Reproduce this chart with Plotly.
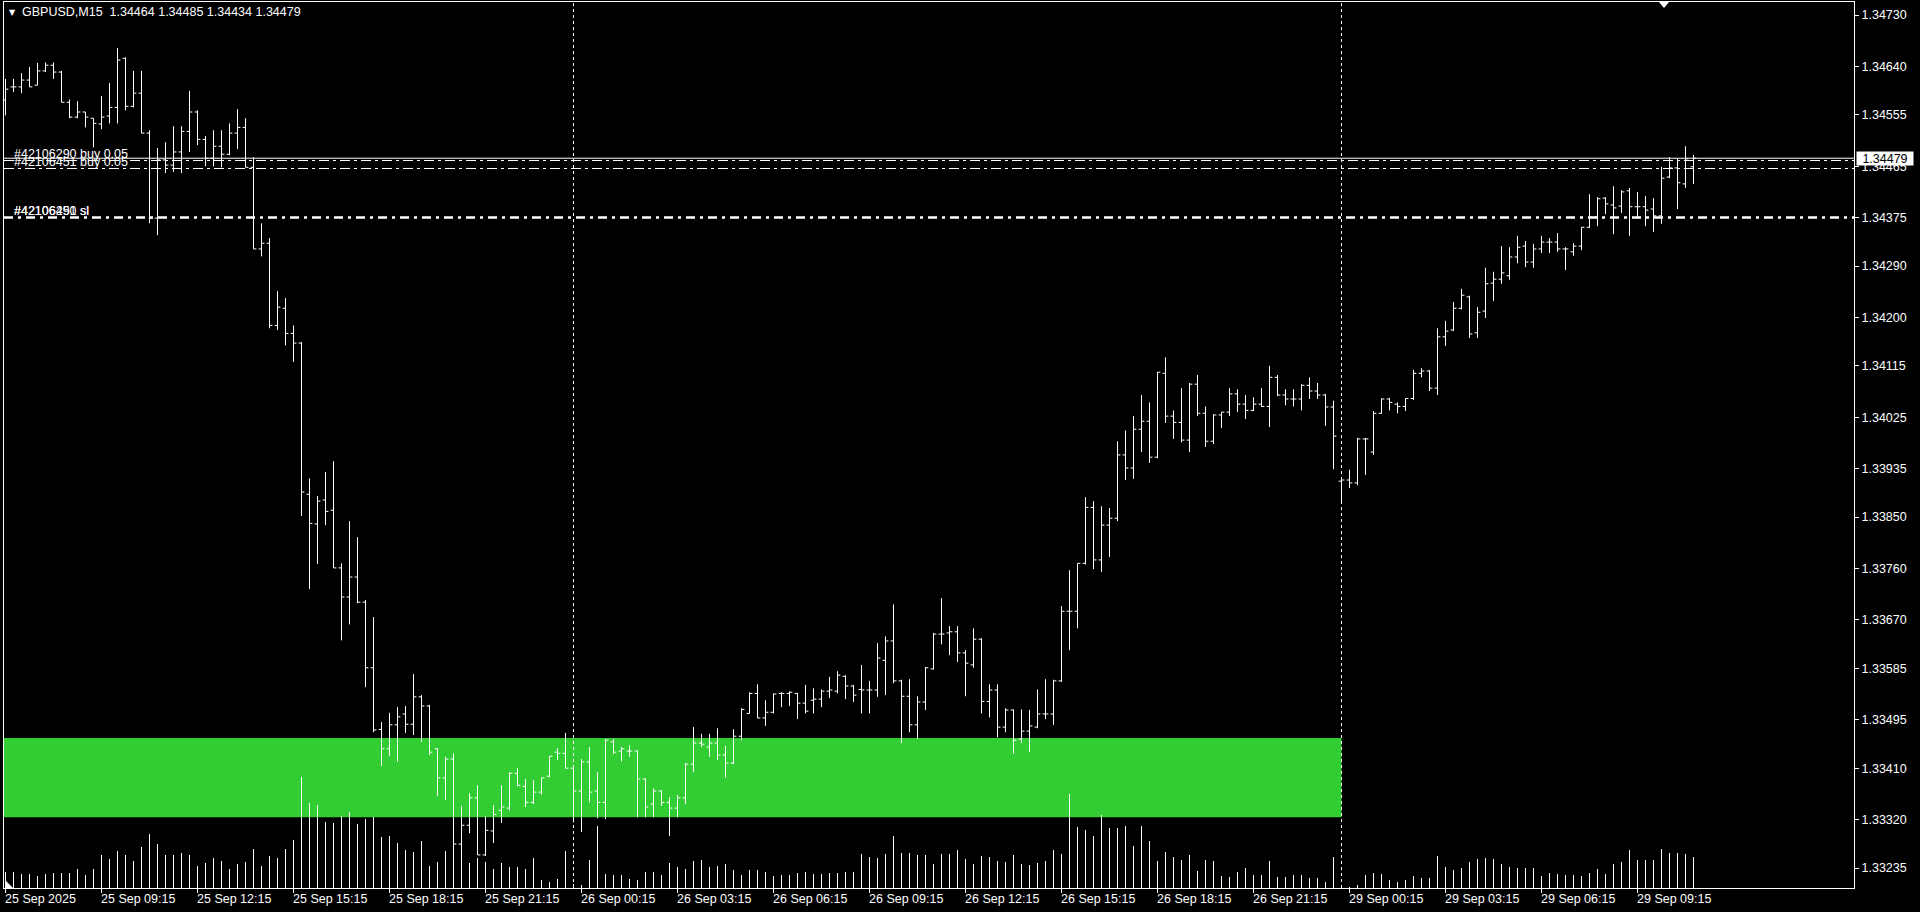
import pandas as pd
import plotly.graph_objects as go

# ---------------- data (GBPUSD, M15) ----------------
opens = [
    1.34581, 1.34604, 1.34604, 1.34616, 1.34607, 1.34632, 1.34642, 1.34630, 1.34577, 1.34551,
    1.34560, 1.34549, 1.34539, 1.34553, 1.34568, 1.34654, 1.34570, 1.34593, 1.34523, 1.34374,
    1.34476, 1.34467, 1.34490, 1.34526, 1.34560, 1.34512, 1.34479, 1.34500, 1.34486, 1.34523,
    1.34533, 1.34463, 1.34320, 1.34330, 1.34186, 1.34216, 1.34172, 1.34155, 1.33890, 1.33838,
    1.33880, 1.33862, 1.33761, 1.33710, 1.33745, 1.33701, 1.33586, 1.33478, 1.33444, 1.33486,
    1.33505, 1.33487, 1.33535, 1.33519, 1.33444, 1.33393, 1.33426, 1.33277, 1.33310, 1.33358,
    1.33258, 1.33300, 1.33336, 1.33340, 1.33401, 1.33378, 1.33350, 1.33368, 1.33396, 1.33438,
    1.33436, 1.33410, 1.33370, 1.33421, 1.33370, 1.33350, 1.33456, 1.33440, 1.33440, 1.33440,
    1.33391, 1.33347, 1.33370, 1.33350, 1.33340, 1.33358, 1.33417, 1.33454, 1.33447, 1.33454,
    1.33433, 1.33419, 1.33466, 1.33506, 1.33541, 1.33498, 1.33508, 1.33541, 1.33541, 1.33541,
    1.33524, 1.33529, 1.33531, 1.33545, 1.33545, 1.33571, 1.33554, 1.33548, 1.33547, 1.33547,
    1.33599, 1.33633, 1.33563, 1.33536, 1.33486, 1.33526, 1.33584, 1.33645, 1.33647, 1.33649,
    1.33612, 1.33591, 1.33636, 1.33527, 1.33547, 1.33482, 1.33512, 1.33461, 1.33475, 1.33482,
    1.33505, 1.33505, 1.33563, 1.33685, 1.33685, 1.33769, 1.33867, 1.33775, 1.33836, 1.33848,
    1.33959, 1.33936, 1.34004, 1.34018, 1.33955, 1.34102, 1.34027, 1.34016, 1.33985, 1.34083,
    1.34032, 1.33983, 1.34029, 1.34034, 1.34066, 1.34048, 1.34037, 1.34048, 1.34044, 1.34095,
    1.34064, 1.34057, 1.34057, 1.34081, 1.34071, 1.34064, 1.34043, 1.33913, 1.33915, 1.33910,
    1.33987, 1.33964, 1.34032, 1.34057, 1.34048, 1.34044, 1.34058, 1.34102, 1.34106, 1.34076,
    1.34166, 1.34178, 1.34216, 1.34236, 1.34173, 1.34211, 1.34260, 1.34267, 1.34273, 1.34306,
    1.34325, 1.34297, 1.34320, 1.34332, 1.34332, 1.34320, 1.34315, 1.34325, 1.34358, 1.34376,
    1.34409, 1.34397, 1.34395, 1.34422, 1.34394, 1.34394, 1.34390, 1.34378, 1.34446, 1.34462,
    1.34434, 1.34464,
]
highs = [
    1.34618, 1.34618, 1.34628, 1.34639, 1.34646, 1.34647, 1.34647, 1.34632, 1.34582, 1.34579,
    1.34560, 1.34549, 1.34588, 1.34611, 1.34672, 1.34656, 1.34632, 1.34632, 1.34528, 1.34497,
    1.34507, 1.34535, 1.34535, 1.34597, 1.34563, 1.34518, 1.34528, 1.34528, 1.34540, 1.34565,
    1.34549, 1.34481, 1.34365, 1.34339, 1.34246, 1.34234, 1.34186, 1.34157, 1.33918, 1.33887,
    1.33929, 1.33948, 1.33769, 1.33843, 1.33815, 1.33705, 1.33675, 1.33491, 1.33507, 1.33517,
    1.33519, 1.33575, 1.33538, 1.33521, 1.33445, 1.33430, 1.33436, 1.33344, 1.33366, 1.33380,
    1.33326, 1.33345, 1.33380, 1.33403, 1.33410, 1.33391, 1.33389, 1.33393, 1.33431, 1.33445,
    1.33472, 1.33412, 1.33426, 1.33447, 1.33403, 1.33461, 1.33461, 1.33447, 1.33450, 1.33441,
    1.33392, 1.33375, 1.33371, 1.33359, 1.33363, 1.33419, 1.33482, 1.33470, 1.33470, 1.33480,
    1.33449, 1.33478, 1.33515, 1.33543, 1.33557, 1.33529, 1.33541, 1.33543, 1.33545, 1.33542,
    1.33556, 1.33550, 1.33548, 1.33570, 1.33580, 1.33573, 1.33556, 1.33591, 1.33563, 1.33629,
    1.33641, 1.33697, 1.33565, 1.33566, 1.33536, 1.33587, 1.33647, 1.33708, 1.33659, 1.33659,
    1.33617, 1.33655, 1.33638, 1.33557, 1.33557, 1.33515, 1.33513, 1.33513, 1.33512, 1.33548,
    1.33566, 1.33565, 1.33694, 1.33757, 1.33769, 1.33885, 1.33878, 1.33869, 1.33866, 1.33983,
    1.34002, 1.34027, 1.34064, 1.34051, 1.34104, 1.34130, 1.34037, 1.34076, 1.34085, 1.34099,
    1.34044, 1.34030, 1.34034, 1.34076, 1.34074, 1.34064, 1.34060, 1.34076, 1.34115, 1.34099,
    1.34074, 1.34074, 1.34083, 1.34095, 1.34085, 1.34066, 1.34054, 1.33915, 1.33933, 1.33989,
    1.33989, 1.34036, 1.34058, 1.34059, 1.34051, 1.34058, 1.34108, 1.34111, 1.34108, 1.34181,
    1.34194, 1.34227, 1.34250, 1.34238, 1.34218, 1.34287, 1.34280, 1.34325, 1.34323, 1.34343,
    1.34334, 1.34329, 1.34343, 1.34339, 1.34348, 1.34323, 1.34330, 1.34358, 1.34416, 1.34411,
    1.34411, 1.34430, 1.34423, 1.34427, 1.34420, 1.34413, 1.34409, 1.34464, 1.34481, 1.34478,
    1.34500, 1.34485,
]
lows = [
    1.34554, 1.34595, 1.34593, 1.34604, 1.34607, 1.34630, 1.34618, 1.34577, 1.34549, 1.34549,
    1.34533, 1.34498, 1.34530, 1.34540, 1.34540, 1.34563, 1.34568, 1.34523, 1.34365, 1.34344,
    1.34453, 1.34455, 1.34453, 1.34490, 1.34502, 1.34465, 1.34465, 1.34463, 1.34484, 1.34495,
    1.34463, 1.34320, 1.34307, 1.34181, 1.34178, 1.34151, 1.34122, 1.33852, 1.33724, 1.33768,
    1.33836, 1.33761, 1.33634, 1.33662, 1.33699, 1.33552, 1.33473, 1.33414, 1.33431, 1.33421,
    1.33472, 1.33468, 1.33456, 1.33433, 1.33361, 1.33354, 1.33252, 1.33266, 1.33296, 1.33258,
    1.33256, 1.33279, 1.33314, 1.33336, 1.33378, 1.33342, 1.33347, 1.33364, 1.33394, 1.33424,
    1.33410, 1.33315, 1.33298, 1.33350, 1.33322, 1.33321, 1.33435, 1.33422, 1.33430, 1.33324,
    1.33324, 1.33324, 1.33344, 1.33291, 1.33324, 1.33347, 1.33403, 1.33447, 1.33430, 1.33424,
    1.33393, 1.33417, 1.33459, 1.33506, 1.33498, 1.33484, 1.33506, 1.33517, 1.33519, 1.33496,
    1.33506, 1.33506, 1.33517, 1.33533, 1.33541, 1.33531, 1.33526, 1.33506, 1.33506, 1.33535,
    1.33538, 1.33559, 1.33454, 1.33473, 1.33461, 1.33512, 1.33583, 1.33627, 1.33608, 1.33596,
    1.33536, 1.33586, 1.33506, 1.33499, 1.33464, 1.33473, 1.33435, 1.33454, 1.33438, 1.33480,
    1.33496, 1.33486, 1.33561, 1.33617, 1.33655, 1.33767, 1.33759, 1.33754, 1.33780, 1.33843,
    1.33915, 1.33917, 1.33964, 1.33945, 1.33953, 1.34015, 1.33987, 1.33981, 1.33964, 1.34027,
    1.33973, 1.33978, 1.34006, 1.34027, 1.34034, 1.34022, 1.34036, 1.34043, 1.34008, 1.34062,
    1.34046, 1.34044, 1.34037, 1.34057, 1.34057, 1.34010, 1.33934, 1.33876, 1.33901, 1.33906,
    1.33924, 1.33959, 1.34031, 1.34037, 1.34032, 1.34036, 1.34055, 1.34095, 1.34071, 1.34064,
    1.34150, 1.34176, 1.34214, 1.34164, 1.34164, 1.34199, 1.34229, 1.34259, 1.34266, 1.34295,
    1.34288, 1.34287, 1.34313, 1.34313, 1.34315, 1.34283, 1.34308, 1.34318, 1.34357, 1.34360,
    1.34381, 1.34346, 1.34383, 1.34343, 1.34374, 1.34360, 1.34350, 1.34364, 1.34444, 1.34390,
    1.34427, 1.34434,
]
closes = [
    1.34600, 1.34604, 1.34616, 1.34604, 1.34632, 1.34642, 1.34630, 1.34577, 1.34551, 1.34560,
    1.34551, 1.34540, 1.34551, 1.34568, 1.34651, 1.34570, 1.34593, 1.34523, 1.34374, 1.34476,
    1.34467, 1.34490, 1.34526, 1.34560, 1.34512, 1.34479, 1.34500, 1.34486, 1.34523, 1.34533,
    1.34463, 1.34320, 1.34330, 1.34186, 1.34218, 1.34172, 1.34155, 1.33894, 1.33839, 1.33878,
    1.33860, 1.33761, 1.33710, 1.33745, 1.33701, 1.33586, 1.33477, 1.33444, 1.33486, 1.33500,
    1.33487, 1.33535, 1.33519, 1.33438, 1.33393, 1.33426, 1.33277, 1.33310, 1.33358, 1.33258,
    1.33301, 1.33329, 1.33342, 1.33401, 1.33380, 1.33350, 1.33368, 1.33393, 1.33431, 1.33436,
    1.33410, 1.33370, 1.33421, 1.33368, 1.33350, 1.33459, 1.33438, 1.33444, 1.33440, 1.33391,
    1.33342, 1.33370, 1.33350, 1.33340, 1.33358, 1.33417, 1.33454, 1.33452, 1.33454, 1.33433,
    1.33419, 1.33466, 1.33513, 1.33541, 1.33498, 1.33508, 1.33540, 1.33541, 1.33543, 1.33524,
    1.33510, 1.33531, 1.33545, 1.33547, 1.33573, 1.33554, 1.33538, 1.33547, 1.33547, 1.33603,
    1.33633, 1.33563, 1.33536, 1.33486, 1.33526, 1.33586, 1.33645, 1.33645, 1.33649, 1.33612,
    1.33594, 1.33636, 1.33527, 1.33547, 1.33482, 1.33512, 1.33459, 1.33475, 1.33484, 1.33505,
    1.33505, 1.33563, 1.33685, 1.33685, 1.33769, 1.33867, 1.33775, 1.33836, 1.33848, 1.33959,
    1.33936, 1.34004, 1.34018, 1.33955, 1.34104, 1.34027, 1.34016, 1.33985, 1.34083, 1.34032,
    1.33983, 1.34029, 1.34034, 1.34066, 1.34048, 1.34037, 1.34048, 1.34044, 1.34095, 1.34064,
    1.34057, 1.34057, 1.34081, 1.34071, 1.34064, 1.34043, 1.33992, 1.33915, 1.33910, 1.33987,
    1.33987, 1.34032, 1.34057, 1.34051, 1.34044, 1.34058, 1.34102, 1.34106, 1.34076, 1.34166,
    1.34176, 1.34216, 1.34239, 1.34171, 1.34209, 1.34259, 1.34267, 1.34278, 1.34306, 1.34323,
    1.34297, 1.34320, 1.34332, 1.34332, 1.34320, 1.34320, 1.34325, 1.34358, 1.34376, 1.34408,
    1.34399, 1.34392, 1.34420, 1.34394, 1.34394, 1.34388, 1.34378, 1.34444, 1.34462, 1.34436,
    1.34478, 1.34479,
]
volumes = [
    480, 480, 420, 420, 360, 420, 450, 450, 450, 570,
    390, 570, 990, 870, 1110, 990, 810, 1230, 1620, 1320,
    990, 990, 1050, 990, 660, 750, 900, 810, 570, 720,
    780, 1170, 660, 960, 900, 1170, 1440, 3330, 2550, 2490,
    1980, 1950, 2160, 2280, 1920, 2070, 2130, 1530, 1560, 1350,
    1140, 1080, 1410, 660, 780, 1110, 1440, 1200, 750, 900,
    780, 570, 750, 630, 630, 570, 900, 240, 180, 270,
    1110, 120, 90, 840, 1860, 420, 390, 390, 270, 240,
    480, 480, 390, 750, 630, 570, 810, 840, 630, 660,
    720, 540, 390, 540, 540, 480, 360, 390, 390, 450,
    480, 420, 420, 450, 450, 480, 480, 1020, 930, 900,
    1020, 1560, 1050, 1050, 990, 990, 720, 1020, 1020, 1140,
    870, 720, 960, 930, 810, 780, 990, 720, 690, 750,
    810, 1140, 1020, 2820, 1830, 1740, 1560, 2190, 1800, 1800,
    1860, 1260, 1860, 1410, 810, 1080, 930, 840, 990, 510,
    840, 810, 360, 330, 480, 600, 390, 390, 810, 330,
    330, 390, 390, 300, 300, 180, 930, 60, 30, 90,
    390, 450, 420, 240, 180, 240, 360, 300, 300, 960,
    630, 540, 600, 780, 870, 900, 870, 720, 630, 600,
    600, 600, 360, 450, 420, 390, 390, 360, 450, 570,
    420, 720, 780, 1140, 840, 840, 840, 1170, 1050, 1050,
    1020, 930,
]

# bar timestamps (two trading sessions, weekend gap)
session_fri = pd.date_range("2025-09-25 06:15", "2025-09-26 23:45", freq="15min")
session_mon = pd.date_range("2025-09-29 00:00", "2025-09-29 11:00", freq="15min")
bar_times = list(session_fri) + list(session_mon)

x_tick_labels = [
    "25 Sep 2025", "25 Sep 09:15", "25 Sep 12:15", "25 Sep 15:15", "25 Sep 18:15",
    "25 Sep 21:15", "26 Sep 00:15", "26 Sep 03:15", "26 Sep 06:15", "26 Sep 09:15",
    "26 Sep 12:15", "26 Sep 15:15", "26 Sep 18:15", "26 Sep 21:15", "29 Sep 00:15",
    "29 Sep 03:15", "29 Sep 06:15", "29 Sep 09:15",
]
y_tick_values = [
    1.34730, 1.34640, 1.34555, 1.34465, 1.34375, 1.34290, 1.34200, 1.34115, 1.34025,
    1.33935, 1.33850, 1.33760, 1.33670, 1.33585, 1.33495, 1.33410, 1.33320, 1.33235,
]

symbol = "GBPUSD,M15"
bid_price = 1.34479
order_tickets = ["#42106290", "#42106451"]
order_prices = [1.34475, 1.34461]
order_lots = [0.05, 0.05]
order_sl = [1.34375, 1.34375]
zone_low, zone_high = 1.33324, 1.33463
zone_end_time = "2025-09-29 00:00"

# ---------------- figure ----------------
n = len(closes)
assert len(opens) == len(highs) == len(lows) == len(volumes) == len(bar_times) == n
xs = list(range(n))

FONT = "Liberation Sans"
FS = 12.5
W, H = 1920, 912
ML, MR, MT, MB = 4, 66, 2, 24
PW, PH = W - ML - MR, H - MT - MB


def px(xpix):
    return (xpix - ML) / PW


def py(ypix):
    return 1 - (ypix - MT) / PH


fmt = [t.strftime("%d %b %H:%M") for t in bar_times]
tick_pos = [0] + [fmt.index(lbl) for lbl in x_tick_labels[1:]]
separators = [i for i in range(1, n) if bar_times[i].date() != bar_times[i - 1].date()]
zone_end = fmt.index(pd.Timestamp(zone_end_time).strftime("%d %b %H:%M"))

fig = go.Figure()

# volume (thin lines from zero)
vx, vy = [], []
for i, v in zip(xs, volumes):
    vx += [i, i, None]
    vy += [0, v, None]
fig.add_trace(go.Scatter(x=vx, y=vy, mode="lines", line=dict(color="white", width=1),
                         yaxis="y2", hoverinfo="skip", showlegend=False))

fig.add_trace(go.Ohlc(
    x=xs, open=opens, high=highs, low=lows, close=closes,
    increasing=dict(line=dict(color="white", width=1)),
    decreasing=dict(line=dict(color="white", width=1)),
    tickwidth=0.36, hoverinfo="skip", showlegend=False,
))

shapes = []
shapes.append(dict(type="rect", xref="x", yref="y", x0=-1, x1=zone_end, y0=zone_low, y1=zone_high,
                   fillcolor="#32CD32", line=dict(width=0), layer="below"))
for s in separators:
    shapes.append(dict(type="line", xref="x", yref="paper", x0=s, x1=s, y0=0, y1=1,
                       line=dict(color="white", width=1, dash="3px,3px")))
shapes.append(dict(type="line", xref="paper", yref="y", x0=0, x1=1, y0=bid_price, y1=bid_price,
                   line=dict(color="white", width=1)))
for p in order_prices:
    shapes.append(dict(type="line", xref="paper", yref="y", x0=0, x1=1, y0=p, y1=p,
                       line=dict(color="white", width=1, dash="10px,4px,3px,4px")))
for p in order_sl:
    shapes.append(dict(type="line", xref="paper", yref="y", x0=0, x1=1, y0=p, y1=p,
                       line=dict(color="white", width=2, dash="9px,5px,3px,5px")))
# chart-shift marker and corner marker
shapes.append(dict(type="path", xref="paper", yref="paper",
                   path=f"M {px(1659)},{py(2)} L {px(1669)},{py(2)} L {px(1664)},{py(8)} Z",
                   fillcolor="white", line=dict(color="white", width=0)))
shapes.append(dict(type="path", xref="paper", yref="paper",
                   path=f"M {px(5)},{py(880)} L {px(5)},{py(888)} L {px(13)},{py(888)} Z",
                   fillcolor="white", line=dict(color="white", width=0)))

ann = []
title_txt = f"{symbol}  {opens[-1]:.5f} {highs[-1]:.5f} {lows[-1]:.5f} {closes[-1]:.5f}"
ann.append(dict(xref="paper", yref="paper", x=px(7), y=py(6), xanchor="left", yanchor="top",
                text="▼", showarrow=False, font=dict(family="DejaVu Sans", size=8, color="white")))
ann.append(dict(xref="paper", yref="paper", x=px(21), y=py(4), xanchor="left", yanchor="top",
                text=title_txt, showarrow=False, borderpad=0,
                font=dict(family=FONT, size=FS, color="white")))
for pos, lbl in zip(tick_pos, x_tick_labels):
    ann.append(dict(xref="x", yref="paper", x=pos, y=0, xanchor="left", yanchor="top",
                    xshift=-2, yshift=-3, text=lbl, showarrow=False, borderpad=0,
                    font=dict(family=FONT, size=FS, color="white")))
for t, p, lot, sl in zip(order_tickets, order_prices, order_lots, order_sl):
    ann.append(dict(xref="paper", yref="y", x=px(13), y=p, xanchor="left", yanchor="bottom",
                    yshift=-1, text=f"{t} buy {lot:.2f}", showarrow=False, borderpad=0,
                    font=dict(family=FONT, size=FS, color="white")))
    ann.append(dict(xref="paper", yref="y", x=px(13), y=sl, xanchor="left", yanchor="bottom",
                    yshift=-1, text=f"{t} sl", showarrow=False, borderpad=0,
                    font=dict(family=FONT, size=FS, color="white")))
ann.append(dict(xref="paper", yref="y", x=1, y=bid_price, xanchor="left", yanchor="middle",
                xshift=2, width=56, height=13, align="center", text=f"{bid_price:.5f}",
                showarrow=False, borderpad=0, bgcolor="white",
                font=dict(family=FONT, size=FS, color="black")))

fig.update_layout(
    width=W, height=H,
    margin=dict(l=ML, r=MR, t=MT, b=MB, pad=0),
    paper_bgcolor="black", plot_bgcolor="black",
    showlegend=False,
    shapes=shapes, annotations=ann,
    xaxis=dict(range=[-0.1875, -0.1875 + PW / 8], showgrid=False, zeroline=False,
               showline=True, mirror=True, linecolor="white", linewidth=1,
               ticks="outside", ticklen=4, tickcolor="white", tickwidth=1,
               tickvals=tick_pos, showticklabels=False,
               rangeslider=dict(visible=False), fixedrange=True),
    yaxis=dict(range=[1.33200, 1.347528], side="right", showgrid=False, zeroline=False,
               showline=True, mirror=True, linecolor="white", linewidth=1,
               ticks="outside", ticklen=4, tickcolor="white", tickwidth=1,
               tickvals=y_tick_values, tickformat=".5f",
               tickfont=dict(family=FONT, size=FS, color="white"), fixedrange=True),
    yaxis2=dict(range=[0, PH * 30], overlaying="y", visible=False, fixedrange=True),
)

fig.write_html("out.html", config={"displayModeBar": False},
               post_script="document.body.style.margin='0';document.body.style.overflow='hidden';")
